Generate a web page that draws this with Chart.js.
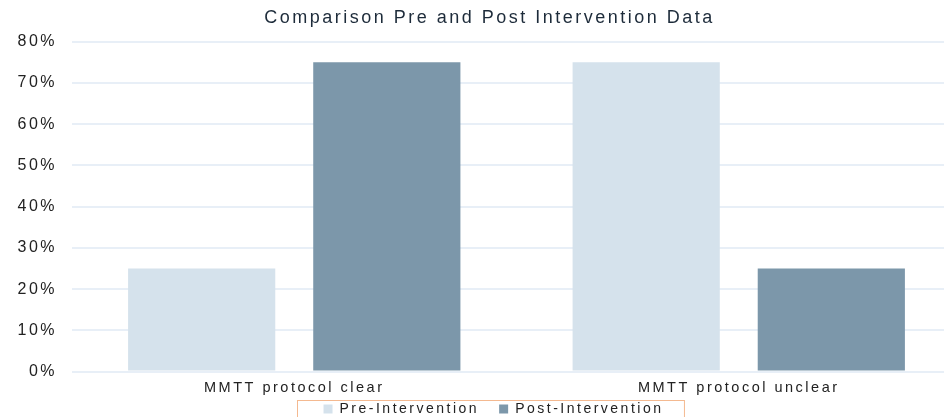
<!DOCTYPE html>
<html>
<head>
<meta charset="utf-8">
<script src="https://cdn.jsdelivr.net/npm/chart.js"></script>
<style>
  html, body { margin: 0; padding: 0; background: #fff; overflow: hidden; }
  #wrap { width: 961px; height: 441px; }
</style>
</head>
<body>
<div id="wrap"><canvas id="chart"></canvas></div>
<script>
const categories = ['MMTT protocol clear', 'MMTT protocol unclear'];
const preIntervention = [25, 75];
const postIntervention = [75, 25];
const yTicks = [0, 10, 20, 30, 40, 50, 60, 70, 80];

const TITLE_SHIFT = 9;
const LEGEND_SHIFT = { x: 13, y: -15 };

const spacing = {
    id: 'spacing',
    beforeLayout(chart) { chart.ctx.letterSpacing = '2.5px'; },
    beforeDraw(chart) { chart.ctx.letterSpacing = '2.5px'; },
    afterInit(chart) {
        // nudge title and legend to where the original puts them
        [[chart.titleBlock, TITLE_SHIFT, 0], [chart.legend, LEGEND_SHIFT.x, LEGEND_SHIFT.y]].forEach(([box, dx, dy]) => {
            const orig = box.draw;
            box.draw = function (...args) {
                const ctx = chart.ctx;
                ctx.save();
                ctx.translate(dx, dy);
                orig.apply(this, args);
                ctx.restore();
            };
        });
    }
};

const legendBorder = {
    id: 'legendBorder',
    afterDraw(chart) {
        const boxes = chart.legend.legendHitBoxes;
        if (!boxes || !boxes.length) return;
        const left = Math.min(...boxes.map(b => b.left)) - 27 + LEGEND_SHIFT.x;
        const right = Math.max(...boxes.map(b => b.left + b.width)) + 20 + LEGEND_SHIFT.x;
        const top = Math.min(...boxes.map(b => b.top)) - 2 + LEGEND_SHIFT.y;
        const ctx = chart.ctx;
        ctx.save();
        ctx.strokeStyle = '#f4b990';
        ctx.lineWidth = 1;
        ctx.strokeRect(Math.round(left) + 0.5, Math.round(top) + 0.5, right - left, 40);
        ctx.restore();
    }
};

new Chart(document.getElementById('chart').getContext('2d'), {
    type: 'bar',
    data: {
        labels: categories,
        datasets: [
            {
                label: 'Pre-Intervention',
                data: preIntervention,
                backgroundColor: '#d5e2ec',
                borderWidth: 0
            },
            {
                label: 'Post-Intervention',
                data: postIntervention,
                backgroundColor: '#7c97aa',
                borderWidth: 0
            }
        ]
    },
    options: {
        responsive: true,
        maintainAspectRatio: false,
        animation: false,
        categoryPercentage: 0.833,
        barPercentage: 0.795,
        layout: { padding: { left: 0, right: 0, top: 4, bottom: 0 } },
        plugins: {
            title: {
                display: true,
                text: 'Comparison Pre and Post Intervention Data',
                color: '#1d2b3a',
                font: { family: 'Liberation Sans', size: 18, weight: 'normal' },
                padding: { top: 3, bottom: 13 }
            },
            legend: {
                position: 'bottom',
                labels: {
                    boxWidth: 9,
                    boxHeight: 9,
                    color: '#222',
                    padding: 20,
                    font: { family: 'Liberation Sans', size: 14 }
                }
            },
            tooltip: { enabled: false }
        },
        scales: {
            x: {
                grid: { display: false },
                border: { display: false },
                ticks: {
                    color: '#222',
                    padding: 0,
                    font: { family: 'Liberation Sans', size: 14.5 }
                }
            },
            y: {
                min: 0,
                max: 80,
                afterFit(scale) { scale.width = 72; },
                afterBuildTicks(scale) { scale.ticks = yTicks.map(v => ({ value: v })); },
                grid: { color: '#e8eff7', lineWidth: 2, drawTicks: false },
                border: { display: false },
                ticks: {
                    color: '#222',
                    padding: 15,
                    font: { family: 'Liberation Sans', size: 16 },
                    callback: v => v + '%'
                }
            }
        }
    },
    plugins: [spacing, legendBorder]
});
</script>
</body>
</html>
